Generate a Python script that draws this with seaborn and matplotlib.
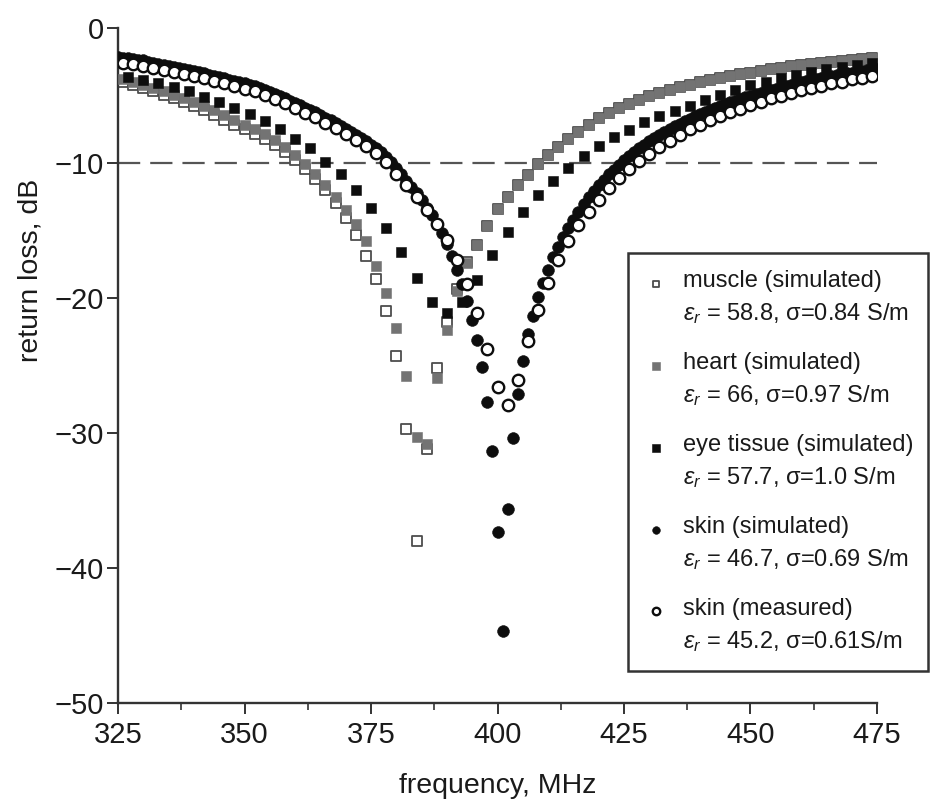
import numpy as np
import matplotlib
matplotlib.use("Agg")
import matplotlib.pyplot as plt
import seaborn as sns
from matplotlib.ticker import MultipleLocator, FixedLocator

# Frequency grids (MHz) on which each series was sampled
freq_tissue = np.arange(326, 475, 2)     # muscle, heart, skin (measured)
freq_eye = np.arange(327, 475, 3)        # eye tissue
freq_skin_sim = np.arange(325, 476, 1)   # skin (simulated)

# Return loss, dB
muscle_db = [
    -4.0, -4.2, -4.45, -4.7, -4.95, -5.2, -5.5, -5.8, -6.1, -6.45,
    -6.8, -7.15, -7.5, -7.85, -8.2, -8.65, -9.15, -9.75, -10.45, -11.2,
    -12.0, -13.0, -14.1, -15.3, -16.9, -18.6, -21.0, -24.3, -29.7, -38.0,
    -31.2, -25.2, -21.8, -19.3, -17.3, -16.05, -14.7, -13.4, -12.5, -11.6,
    -10.9, -10.1, -9.4, -8.8, -8.2, -7.7, -7.2, -6.7, -6.3, -5.95,
    -5.6, -5.3, -5.05, -4.8, -4.6, -4.4, -4.2, -4.0, -3.85, -3.7,
    -3.55, -3.4, -3.3, -3.18, -3.06, -2.95, -2.85, -2.75, -2.65, -2.57,
    -2.49, -2.41, -2.34, -2.27, -2.2,
]
heart_db = [
    -3.8, -4.0, -4.2, -4.45, -4.7, -4.95, -5.2, -5.5, -5.8, -6.1,
    -6.45, -6.8, -7.15, -7.5, -7.85, -8.3, -8.8, -9.4, -10.05, -10.8,
    -11.6, -12.5, -13.5, -14.5, -15.8, -17.6, -19.6, -22.2, -25.8, -30.3,
    -30.8, -25.9, -22.4, -19.5, -17.4, -16.1, -14.7, -13.4, -12.5, -11.6,
    -10.9, -10.1, -9.4, -8.8, -8.2, -7.7, -7.2, -6.7, -6.3, -5.95,
    -5.6, -5.3, -5.05, -4.8, -4.6, -4.4, -4.2, -4.0, -3.85, -3.7,
    -3.55, -3.4, -3.3, -3.18, -3.06, -2.95, -2.85, -2.75, -2.65, -2.57,
    -2.49, -2.41, -2.34, -2.27, -2.2,
]
eye_db = [
    -3.6, -3.85, -4.05, -4.4, -4.7, -5.1, -5.5, -5.9, -6.4, -6.9,
    -7.5, -8.2, -8.9, -9.9, -10.8, -12.0, -13.3, -14.8, -16.6, -18.5,
    -20.3, -21.1, -20.3, -18.7, -16.8, -15.1, -13.6, -12.4, -11.3, -10.35,
    -9.5, -8.75, -8.05, -7.55, -7.0, -6.55, -6.12, -5.75, -5.35, -4.97,
    -4.6, -4.25, -3.98, -3.73, -3.48, -3.25, -3.06, -2.88, -2.74, -2.62,
]
skin_sim_db = [
    -2.15, -2.2, -2.25, -2.3, -2.35, -2.4, -2.5, -2.6, -2.67, -2.75,
    -2.82, -2.9, -2.97, -3.05, -3.12, -3.18, -3.26, -3.35, -3.45, -3.55,
    -3.63, -3.72, -3.82, -3.92, -4.02, -4.1, -4.2, -4.3, -4.43, -4.57,
    -4.73, -4.9, -5.05, -5.2, -5.38, -5.57, -5.73, -5.9, -6.07, -6.25,
    -6.45, -6.65, -6.85, -7.05, -7.25, -7.47, -7.7, -7.92, -8.15, -8.37,
    -8.63, -8.9, -9.2, -9.55, -9.95, -10.4, -10.85, -11.3, -11.75, -12.25,
    -12.75, -13.3, -13.85, -14.5, -15.2, -16.0, -16.9, -17.9, -19.0, -20.2,
    -21.6, -23.1, -25.1, -27.7, -31.3, -37.3, -44.7, -35.6, -30.4, -27.1,
    -24.7, -22.7, -21.3, -19.9, -18.9, -17.9, -17.0, -16.2, -15.5, -14.8,
    -14.2, -13.6, -13.05, -12.55, -12.1, -11.65, -11.25, -10.85, -10.5, -10.15,
    -9.8, -9.5, -9.2, -8.9, -8.65, -8.4, -8.15, -7.92, -7.7, -7.48,
    -7.28, -7.08, -6.9, -6.72, -6.55, -6.38, -6.22, -6.06, -5.92, -5.78,
    -5.64, -5.5, -5.38, -5.25, -5.13, -5.02, -4.9, -4.8, -4.7, -4.6,
    -4.5, -4.4, -4.3, -4.21, -4.12, -4.03, -3.95, -3.87, -3.79, -3.71,
    -3.63, -3.56, -3.49, -3.42, -3.36, -3.3, -3.24, -3.18, -3.12, -3.07,
    -3.02,
]
skin_meas_db = [
    -2.57, -2.67, -2.81, -2.99, -3.14, -3.28, -3.43, -3.56, -3.73, -3.93,
    -4.10, -4.30, -4.49, -4.67, -4.96, -5.28, -5.58, -5.95, -6.27, -6.62,
    -7.01, -7.43, -7.85, -8.30, -8.74, -9.28, -9.9, -10.8, -11.6, -12.5,
    -13.5, -14.5, -15.7, -17.2, -19.0, -21.1, -23.8, -26.6, -27.9, -26.1,
    -23.2, -20.9, -18.9, -17.2, -15.8, -14.6, -13.6, -12.74, -11.88, -11.14,
    -10.47, -9.83, -9.33, -8.84, -8.35, -7.93, -7.51, -7.19, -6.81, -6.52,
    -6.20, -6.0, -5.70, -5.46, -5.21, -5.01, -4.79, -4.59, -4.42, -4.27,
    -4.10, -3.98, -3.80, -3.68, -3.56,
]

x_ticks = [325, 350, 375, 400, 425, 450, 475]
y_ticks = [0, -10, -20, -30, -40, -50]
threshold_db = -10

series_labels = [
    "muscle (simulated)\n$\\varepsilon_r$ = 58.8, \u03c3=0.84 S/m",
    "heart (simulated)\n$\\varepsilon_r$ = 66, \u03c3=0.97 S/m",
    "eye tissue (simulated)\n$\\varepsilon_r$ = 57.7, \u03c3=1.0 S/m",
    "skin (simulated)\n$\\varepsilon_r$ = 46.7, \u03c3=0.69 S/m",
    "skin (measured)\n$\\varepsilon_r$ = 45.2, \u03c3=0.61S/m",
]

sns.set_style("ticks")
plt.rcParams["font.family"] = ["Liberation Sans", "DejaVu Sans"]
plt.rcParams["mathtext.fontset"] = "custom"
plt.rcParams["mathtext.rm"] = "Liberation Sans"
plt.rcParams["mathtext.it"] = "Liberation Sans:italic"
plt.rcParams["text.color"] = "#1a1a1a"
plt.rcParams["axes.labelcolor"] = "#1a1a1a"

W, H = 935, 807
fig = plt.figure(figsize=(W / 100, H / 100), dpi=100)
ax = fig.add_axes([118 / W, 1 - 703 / H, (877 - 118) / W, (703 - 28) / H])

ax.axhline(threshold_db, color="#555555", lw=1.6, linestyle=(0, (10, 4.5)), zorder=1)

sns.scatterplot(x=freq_tissue, y=muscle_db, marker="s", s=58, color="white",
                edgecolor="#4d4d4d", linewidth=1.3, label=series_labels[0], ax=ax, zorder=2)
sns.scatterplot(x=freq_tissue, y=heart_db, marker="s", s=62, color="#737373",
                edgecolor="#737373", linewidth=0.4, label=series_labels[1], ax=ax, zorder=3)
sns.scatterplot(x=freq_eye, y=eye_db, marker="s", s=62, color="#0d0d0d",
                edgecolor="#0d0d0d", linewidth=0.4, label=series_labels[2], ax=ax, zorder=4)
sns.scatterplot(x=freq_skin_sim, y=skin_sim_db, marker="o", s=72, color="#0d0d0d",
                edgecolor="#0d0d0d", linewidth=0.4, label=series_labels[3], ax=ax, zorder=5)
sns.scatterplot(x=freq_tissue, y=skin_meas_db, marker="o", s=68, color="white",
                edgecolor="#0d0d0d", linewidth=1.7, label=series_labels[4], ax=ax, zorder=6)

ax.set_xlim(325, 475)
ax.set_ylim(-50, 0)
ax.xaxis.set_major_locator(FixedLocator(x_ticks))
ax.xaxis.set_minor_locator(MultipleLocator(12.5))
ax.yaxis.set_major_locator(FixedLocator(y_ticks))

for side in ("top", "right"):
    ax.spines[side].set_visible(False)
for side in ("left", "bottom"):
    ax.spines[side].set_linewidth(1.7)
    ax.spines[side].set_color("#333333")

ax.tick_params(axis="both", which="major", direction="out", length=8, width=1.4,
               color="#333333", labelsize=21, labelcolor="#1a1a1a")
ax.tick_params(axis="y", which="major", pad=2)
ax.tick_params(axis="x", which="major", pad=5)
ax.tick_params(axis="x", which="minor", direction="out", length=5, width=1.2, color="#333333")

ax.set_xlabel("frequency, MHz", fontsize=20.5, labelpad=17)
ax.set_ylabel("return loss, dB", fontsize=20.5)
# label sits beside the upper half of the axis
ax.yaxis.set_label_coords((44 - 118) / 759, (703 - 270) / 675)

leg_left, leg_top, leg_right, leg_bottom = 628, 253, 928, 670
handles, labels = ax.get_legend_handles_labels()
leg = fig.legend(handles, labels, loc="upper left",
                 bbox_to_anchor=(leg_left / W, 1 - leg_bottom / H,
                                 (leg_right - leg_left) / W, (leg_bottom - leg_top) / H),
                 mode="expand", fontsize=17, frameon=True, fancybox=False,
                 edgecolor="#333333", framealpha=1, borderpad=0.72, labelspacing=1.08,
                 handlelength=0.9, handletextpad=0.7, markerscale=0.65, borderaxespad=0)
leg.get_frame().set_linewidth(1.8)
for t in leg.get_texts():
    t.set_linespacing(1.5)
if ax.get_legend() is not None:
    ax.get_legend().remove()

# lift each legend marker onto the first line of its two-line label
for h in leg.legend_handles:
    off = h.get_offsets()
    off[:, 1] += 12
    h.set_offsets(off)

fig.savefig("out.png", dpi=100, facecolor="white")
